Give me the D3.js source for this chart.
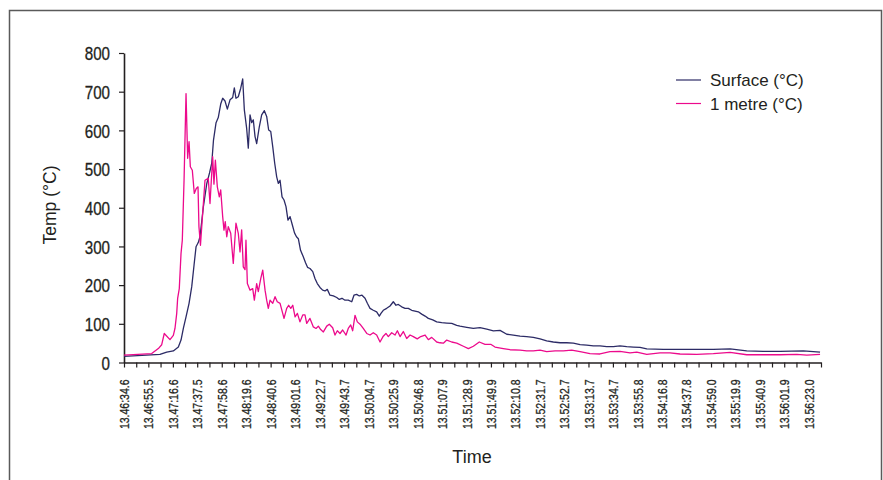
<!DOCTYPE html>
<html>
<head>
<meta charset="utf-8">
<script src="https://cdn.jsdelivr.net/npm/d3@7"></script>
<style>
  body { margin: 0; background: #fff; }
  text { font-family: "Liberation Sans", Arial, sans-serif; fill: #231f20; }
  .tick text { stroke: #231f20; stroke-width: 0.3px; }
</style>
</head>
<body>
<script>
// tick labels on the time axis (category labels from the logger)
const xLabels = ["13.46:34.6","13.46:55.5","13.47:16.6","13.47:37.5","13.47:58.6","13.48:19.6",
  "13.48:40.6","13.49:01.6","13.49:22.7","13.49:43.7","13.50:04.7","13.50:25.9","13.50:46.8",
  "13.51:07.9","13.51:28.9","13.51:49.9","13.52:10.8","13.52:31.7","13.52:52.7","13.53:13.7",
  "13.53:34.7","13.53:55.8","13.54:16.8","13.54:37.8","13.54:59.0","13.55:19.9","13.55:40.9",
  "13.56:01.9","13.56:23.0"];
const yTicks = [0, 100, 200, 300, 400, 500, 600, 700, 800];

// seconds after 13.46:34.6, temperature in °C
const surfaceTime = [0,30.9,36.7,42.4,46.7,49,51,53.3,55.9,58.2,60.2,61.9,63.8,65.3,68.1,71.1,73.5,75.4,
  76.9,79.1,81,83.1,84.8,86.8,88.8,91.1,93.4,94.8,96.2,98.2,100.3,102,103.4,105.4,106.8,108.3,109.7,
  111.1,112.6,114,116.3,118.3,120.6,122.6,124.3,126.1,127.8,129.5,131.2,132.6,134.1,135.8,137.5,139.2,
  140.9,142.7,144.6,146.5,148.2,149.8,151.7,153.8,156,157.7,159.8,162.2,164.1,166.1,168.4,170.7,172.7,
  174.7,177,179.9,182.8,185,187.3,189.9,192.7,195.7,197.6,199.9,202.2,204.5,207.1,209.1,211.4,214.2,
  217.1,219.4,220.8,222.8,225.7,228.6,231.4,233.7,235.7,238.6,241.5,244.3,247.2,250.1,252.9,255.8,
  258.7,261.5,265.3,268.7,273,277.3,281.6,285.9,288.7,294.5,300.2,305.9,311.7,317.4,323.1,328.9,334.5,
  340.3,346,351.7,357.5,363.2,368.9,374.7,380.4,386.1,391.9,397.6,403.3,409,414.8,420.5,426.2,432,
  437.7,443.4,449.2,463.5,477.8,492.1,506.4,520.8,535.1,549.4,563.7,583.7,598.1];
const surfaceTemp = [16,21,27,30,40,58,88,118,153,196,252,299,310,325,400,462,490,515,
  575,620,633,668,683,676,655,679,685,710,683,687,709,733,653,605,554,640,620,
  627,584,566,610,640,651,636,601,597,558,515,480,463,471,428,420,403,
  368,377,356,335,325,320,290,275,258,246,243,235,217,204,194,187,185,
  189,174,172,168,163,166,161,161,157,174,176,172,174,166,153,140,135,
  131,120,127,135,140,146,157,148,150,144,140,140,135,133,131,125,
  120,114,110,105,103,102,101,96,94,91,88,90,86,82,83,73,71,
  68,67,65,61,56,53,51,51,50,46,45,43,43,41,41,43,41,
  40,39,35,34,34,34,34,35,30,29,29,30,27];

const metreTime = [0,23.8,29.5,32.4,34.6,39.5,42.4,43.8,45.3,46.1,47.5,49,50.1,51.6,53.3,54.7,55.9,57,
  58.7,60.4,62.1,63.6,64.4,65.7,69.6,72.4,73.9,76.2,77.3,78.5,80.2,81.9,83.1,84.8,85.9,87,88.3,89.6,
  91.7,93.9,96.2,98.2,99.7,101.1,102.5,104,104.8,106,108.3,110.6,112,114,115.4,117.5,119.2,121.2,
  122.6,124,125.5,127.8,129.8,131.7,134.1,137.5,139.8,141.5,143.3,145,147,149,151.2,153.6,155.5,157,
  159.8,162.7,165,167,169,171.3,174.2,176.4,179.3,181.3,183.3,185.6,187.9,190.8,192.7,194.8,196.5,
  198.5,200.5,202.8,205.6,208.6,211.4,214.2,217.1,220,222.8,225.1,227.1,230,232.9,234.9,237.2,240,
  242.9,245.8,248.6,252,255,258.7,261.5,264.4,268.7,271.5,274.4,277.3,281.6,285.9,291.6,295.9,300.2,
  305.3,310.2,315.1,318.8,325.9,331.7,340.3,346,351.7,357.5,363.2,370.4,377.5,384.7,391.9,400.4,409,
  417.6,426.2,434.8,440.6,449.2,460.6,469.2,477.8,492.1,506.4,520.8,535.1,549.4,563.7,578.1,586.7,598.1];
const metreTemp = [19,23,36,46,75,59,70,88,127,166,191,282,316,471,695,528,571,506,
  497,437,450,454,351,303,471,476,411,532,461,523,454,428,446,377,342,364,325,351,
  334,256,360,334,286,343,247,240,316,204,187,191,161,204,183,217,239,187,
  161,140,161,153,170,157,153,114,140,148,140,148,118,127,105,123,123,101,
  114,92,88,94,85,79,94,99,90,71,82,75,84,71,88,97,82,
  122,105,99,88,75,71,77,71,53,68,75,67,77,71,82,67,80,
  62,71,67,61,67,71,59,65,53,51,50,58,53,50,42,36,42,
  53,47,47,40,36,33,32,30,30,32,28,30,30,32,28,23,22,
  28,29,25,27,21,25,25,22,21,23,26,20,20,20,21,19,21];

const W = 883, H = 480;
const narrow = 0.82; // no condensed face installed, so squeeze the tick labels
const svg = d3.select("body").append("svg").attr("width", W).attr("height", H);
svg.append("rect").attr("width", W).attr("height", H).attr("fill", "#fff");

// outer frame (bottom runs off the picture)
svg.append("path")
  .attr("d", "M9.5," + (H + 5) + "V10.5H881.5V" + (H + 5))
  .attr("fill", "none").attr("stroke", "#5a5a5a").attr("stroke-width", 1.5);

const toSec = s => {
  const m = s.match(/(\d+)\.(\d+):([\d.]+)/);
  return +m[1] * 3600 + +m[2] * 60 + +m[3];
};
const t0 = toSec(xLabels[0]);
const labelTimes = xLabels.map(s => +(toSec(s) - t0).toFixed(1));
const halfStep = (labelTimes[labelTimes.length - 1] - labelTimes[0]) / (labelTimes.length - 1) / 2;
const minorTimes = labelTimes.map(t => t + halfStep);

const x = d3.scaleLinear().domain([0, labelTimes[labelTimes.length - 1] + halfStep]).range([124, 821]);
const y = d3.scaleLinear().domain([0, 800]).range([362.5, 53]);

// x axis
const gx = svg.append("g").attr("transform", "translate(0," + y(0) + ")");
gx.call(d3.axisBottom(x).tickValues(labelTimes).tickSize(5).tickSizeOuter(0)
  .tickFormat((d, i) => xLabels[i]));
gx.append("g").call(d3.axisBottom(x).tickValues(minorTimes).tickSize(5).tickFormat(""))
  .select(".domain").remove();
gx.selectAll("line").attr("stroke", "#231f20").attr("stroke-width", 1.2);
gx.select(".domain").attr("stroke", "#231f20").attr("stroke-width", 1.6);
gx.selectAll(".tick text")
  .attr("transform", "rotate(-90) scale(" + narrow + ",1)")
  .attr("x", -17 / narrow).attr("y", 0).attr("dy", "0.36em")
  .attr("text-anchor", "end")
  .style("font-size", "12.8px");

// y axis
const gy = svg.append("g").attr("transform", "translate(" + x(0) + ",0)");
gy.call(d3.axisLeft(y).tickValues(yTicks).tickSize(5).tickPadding(9).tickSizeOuter(0));
gy.selectAll("line").attr("stroke", "#231f20").attr("stroke-width", 1.2);
gy.select(".domain").attr("stroke", "#231f20").attr("stroke-width", 1.6);
gy.selectAll(".tick text")
  .attr("transform", "scale(" + narrow + ",1)")
  .attr("x", -14 / narrow).attr("dy", "0.36em").style("font-size", "18.5px");

// axis titles
svg.append("text").attr("x", 472).attr("y", 463).attr("text-anchor", "middle")
  .style("font-size", "18px").text("Time");
svg.append("text").attr("transform", "translate(56,205) rotate(-90)").attr("text-anchor", "middle")
  .style("font-size", "17.5px").text("Temp (°C)");

// series
const series = [
  { name: "Surface (°C)", color: "#2c2b66", time: surfaceTime, temp: surfaceTemp },
  { name: "1 metre (°C)", color: "#ec0a8c", time: metreTime, temp: metreTemp }
];
const line = d3.line().x(d => x(d[0])).y(d => y(d[1]));
series.forEach(s => {
  svg.append("path")
    .datum(s.time.map((t, i) => [t, s.temp[i]]))
    .attr("fill", "none").attr("stroke", s.color).attr("stroke-width", 1.3)
    .attr("stroke-linejoin", "round").attr("d", line);
});

// legend
const lg = svg.append("g").attr("transform", "translate(676,80)");
series.forEach((s, i) => {
  lg.append("line").attr("x1", 0).attr("x2", 25).attr("y1", i * 23.5).attr("y2", i * 23.5)
    .attr("stroke", s.color).attr("stroke-width", 1.2);
  lg.append("text").attr("x", 34).attr("y", i * 23.5).attr("dy", "0.36em")
    .style("font-size", "17px").text(s.name);
});
</script>
</body>
</html>
